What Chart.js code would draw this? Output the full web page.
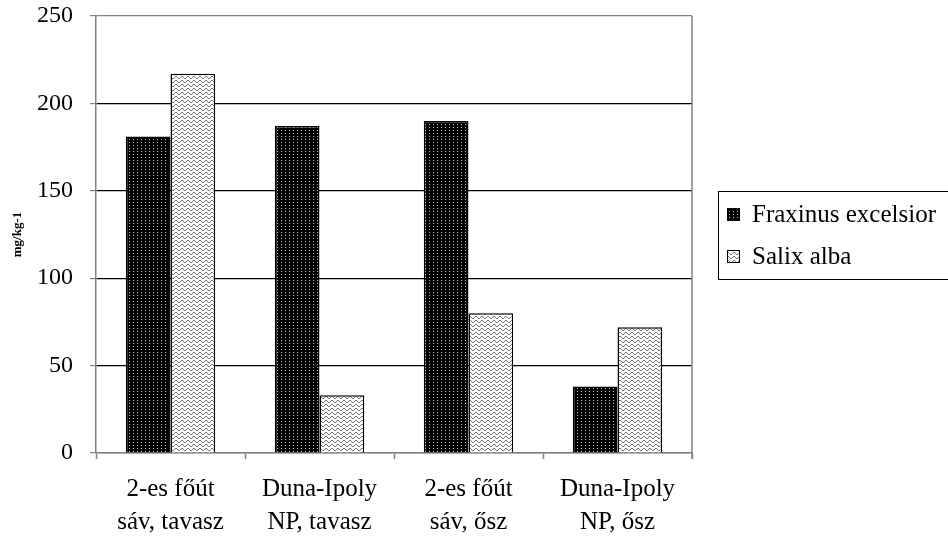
<!DOCTYPE html>
<html>
<head>
<meta charset="utf-8">
<script src="https://cdn.jsdelivr.net/npm/chart.js@4"></script>
<style>
  html, body { margin: 0; padding: 0; background: #fff; }
  #wrap { width: 948px; height: 542px; position: relative; }
</style>
</head>
<body>
<div id="wrap"><canvas id="chart"></canvas></div>
<script>
const categories = [
    ['2-es főút', 'sáv, tavasz'],
    ['Duna-Ipoly', 'NP, tavasz'],
    ['2-es főút', 'sáv, ősz'],
    ['Duna-Ipoly', 'NP, ősz']
];
const seriesNames = ['Fraxinus excelsior', 'Salix alba'];
const fraxinus = [181, 187, 190, 38];
const salix = [217, 33, 80, 72];
const yTicks = [0, 50, 100, 150, 200, 250];
const yTitle = 'mg/kg-1';

const SERIF = '"Liberation Serif", "Times New Roman", serif';

// dotted black fill
function dotPattern() {
    var c = document.createElement('canvas');
    c.width = 4; c.height = 3;
    var g = c.getContext('2d');
    g.fillStyle = '#000';
    g.fillRect(0, 0, 4, 3);
    g.fillStyle = '#bbb';
    g.fillRect(1, 1, 1, 1);
    return g.createPattern(c, 'repeat');
}

// wavy lines on white
function wavePattern() {
    var c = document.createElement('canvas');
    c.width = 6; c.height = 4;
    var g = c.getContext('2d');
    g.fillStyle = '#fff';
    g.fillRect(0, 0, 6, 4);
    g.fillStyle = '#777';
    g.fillRect(0, 1, 1, 1);
    g.fillRect(1, 0, 2, 1);
    g.fillRect(3, 1, 1, 1);
    g.fillRect(4, 2, 2, 1);
    return g.createPattern(c, 'repeat');
}

const fills = [dotPattern(), wavePattern()];

const frame = {
    id: 'frame',
    afterDraw(chart) {
        const a = chart.chartArea, ctx = chart.ctx;
        ctx.save();
        ctx.strokeStyle = '#808080';
        ctx.lineWidth = 1.5;
        ctx.beginPath();
        ctx.moveTo(a.right, a.top);
        ctx.lineTo(a.right, a.bottom + 6);
        ctx.stroke();

        // legend box
        const ds = chart.data.datasets;
        const x0 = a.right + 26;
        const rowH = 42;
        const boxH = rowH * ds.length + 4;
        const y0 = Math.round((a.top + a.bottom) / 2 - boxH / 2);
        ctx.strokeStyle = '#000';
        ctx.lineWidth = 1;
        ctx.strokeRect(x0 + 0.5, y0 + 0.5, 300, boxH);
        ctx.font = '25px ' + SERIF;
        ctx.textBaseline = 'middle';
        ctx.fillStyle = '#000';
        ds.forEach(function (d, i) {
            const cy = y0 + 23 + i * rowH;
            ctx.fillStyle = d.backgroundColor;
            ctx.fillRect(x0 + 9, cy - 6, 13, 13);
            ctx.strokeStyle = '#000';
            ctx.strokeRect(x0 + 9.5, cy - 5.5, 12, 12);
            ctx.fillStyle = '#000';
            ctx.fillText(d.label, x0 + 34, cy + 1);
        });
        ctx.restore();
    }
};

const chart = new Chart(document.getElementById('chart'), {
    type: 'bar',
    data: {
        labels: categories,
        datasets: [
            { label: seriesNames[0], data: fraxinus, backgroundColor: fills[0] },
            { label: seriesNames[1], data: salix, backgroundColor: fills[1] }
        ]
    },
    plugins: [frame],
    options: {
        responsive: true,
        maintainAspectRatio: false,
        animation: false,
        layout: { padding: { top: 16, right: 256, left: 0, bottom: 0 } },
        datasets: {
            bar: {
                categoryPercentage: 0.6,
                barPercentage: 1.0,
                borderColor: '#000',
                borderWidth: 1.5
            }
        },
        plugins: {
            legend: { display: false },
            tooltip: { enabled: false }
        },
        scales: {
            x: {
                grid: {
                    offset: true,
                    drawOnChartArea: false,
                    tickLength: 6,
                    tickColor: '#808080',
                    tickWidth: 1.5
                },
                border: { color: '#808080', width: 1.5 },
                ticks: {
                    color: '#000',
                    font: { family: SERIF, size: 25, lineHeight: 1.32 },
                    padding: 14,
                    maxRotation: 0
                },
                afterFit(s) { s.height = 89; }
            },
            y: {
                min: 0,
                max: 250,
                afterBuildTicks(s) { s.ticks = yTicks.map(v => ({ value: v })); },
                grid: {
                    color: ctx => (ctx.tick && ctx.tick.value > 0 && ctx.tick.value < 250) ? '#000' : '#808080',
                    lineWidth: 1.2,
                    tickLength: 6,
                    tickColor: '#808080'
                },
                border: { color: '#808080', width: 1.5 },
                ticks: {
                    color: '#000',
                    font: { family: SERIF, size: 24 },
                    padding: 17
                },
                title: {
                    display: true,
                    text: yTitle,
                    color: '#000',
                    font: { family: SERIF, size: 13, weight: 'bold' },
                    padding: { top: 10, bottom: 0 }
                },
                afterFit(s) { s.width = 96; s.paddingTop = 0; s.paddingBottom = 0; }
            }
        }
    }
});
</script>
</body>
</html>
